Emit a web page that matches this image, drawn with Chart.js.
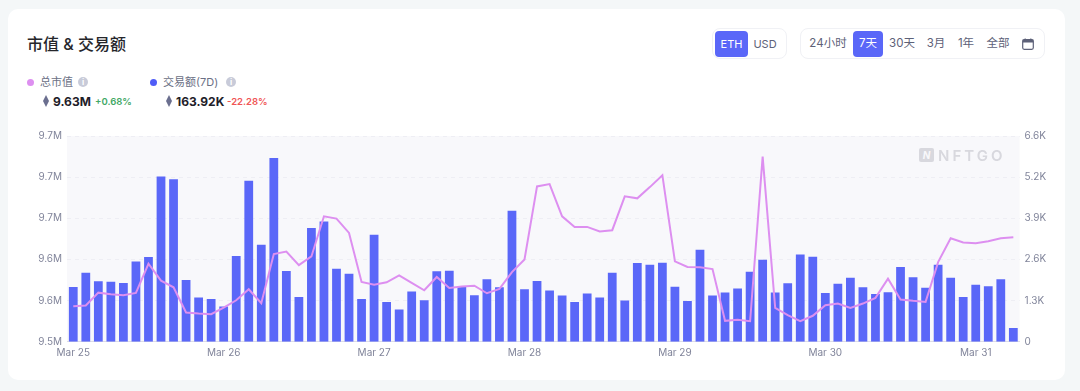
<!DOCTYPE html>
<html>
<head>
<meta charset="utf-8">
<title>市值 & 交易额</title>
<script src="https://cdn.jsdelivr.net/npm/chart.js@4"></script>
<style>
  html, body { margin: 0; padding: 0; width: 1080px; height: 391px; overflow: hidden; background: #f4f7f8; }
  body { font-family: Inter, "Noto Sans CJK SC", sans-serif; }
  .card { position: absolute; left: 8px; top: 9px; width: 1057px; height: 371px; background: #fff; border-radius: 10px; }
  .abs { position: absolute; white-space: nowrap; line-height: 1; }
  .center { transform: translateX(-50%); }
  .group { position: absolute; top: 28px; height: 31px; border: 1px solid #f0f1f5; border-radius: 8px; box-sizing: border-box; }
  .active { position: absolute; top: 31px; height: 26px; background: #5a67f8; border-radius: 4px; }
  .btn { font-size: 11.5px; color: #5d6178; top: 38px; }
  .btn.on { color: #fff; }
  .dot { position: absolute; width: 7px; height: 7px; border-radius: 50%; top: 78.5px; }
  .info { position: absolute; width: 10px; height: 10px; border-radius: 50%; top: 77px; background: #c8cbd9; color: #fff; font-size: 8px; line-height: 10px; text-align: center; font-weight: 700; }
  .legend { font-size: 11px; color: #6b7085; top: 77px; }
  .big { font-size: 12px; font-weight: 700; color: #1e2028; top: 95.5px; }
  .pct { font-size: 9.5px; font-weight: 600; top: 97px; }
  .eth { position: absolute; top: 95px; }
  #wrap { position: absolute; left: 20px; top: 125px; }
  .mark { font-size: 15px; font-weight: 600; letter-spacing: 3px; color: #d8d8de; left: 938px; top: 148px; }
  .markbox { position: absolute; left: 919px; top: 148px; width: 15px; height: 14px; background: #d8d8de; border-radius: 2px; color: #f8f8fb; font-size: 10px; line-height: 14px; text-align: center; font-weight: 700; font-style: italic; }
</style>
</head>
<body>
<div class="card"></div>

<div class="abs" style="left:27px;top:36px;font-size:16px;font-weight:500;color:#25262b">市值 &amp; 交易额</div>

<div class="dot" style="left:27px;background:#dd8ff0"></div>
<div class="abs legend" style="left:40px">总市值</div>
<div class="info" style="left:78px">i</div>
<div class="dot" style="left:150px;background:#4f5cf7"></div>
<div class="abs legend" style="left:163px">交易额(7D)</div>
<div class="info" style="left:226px">i</div>

<svg class="eth" style="left:43px" width="6" height="12" viewBox="0 0 6 12"><path d="M3 0 L6 6 L3 12 L0 6 Z" fill="#6b6f8f"/></svg>
<div class="abs big" style="left:53px">9.63M</div>
<div class="abs pct" style="left:95px;color:#3fa866">+0.68%</div>
<svg class="eth" style="left:166px" width="6" height="12" viewBox="0 0 6 12"><path d="M3 0 L6 6 L3 12 L0 6 Z" fill="#6b6f8f"/></svg>
<div class="abs big" style="left:176px">163.92K</div>
<div class="abs pct" style="left:227px;color:#f05555">-22.28%</div>

<div class="group" style="left:712px;width:75px"></div>
<div class="active" style="left:715px;width:33px"></div>
<div class="abs btn on center" style="left:731.5px;font-size:11px;top:39px">ETH</div>
<div class="abs btn center" style="left:765px;font-size:11px;top:39px">USD</div>

<div class="group" style="left:800px;width:245px"></div>
<div class="active" style="left:853px;width:30px"></div>
<div class="abs btn center" style="left:828px">24小时</div>
<div class="abs btn on center" style="left:868px">7天</div>
<div class="abs btn center" style="left:902px">30天</div>
<div class="abs btn center" style="left:936px">3月</div>
<div class="abs btn center" style="left:966px">1年</div>
<div class="abs btn center" style="left:998px">全部</div>
<svg style="position:absolute;left:1022px;top:38px" width="12" height="12" viewBox="0 0 12 12">
  <rect x="0.7" y="1.7" width="10.6" height="9.6" rx="1.5" fill="none" stroke="#5d6178" stroke-width="1.2"/>
  <rect x="0.7" y="1.7" width="10.6" height="2.8" fill="#5d6178"/>
  <path d="M3.2 0.5 V2.5 M8.8 0.5 V2.5" stroke="#5d6178" stroke-width="1.2"/>
</svg>

<div id="wrap"><canvas id="chart" width="1040" height="240"></canvas></div>

<div class="markbox">N</div>
<div class="abs mark">NFTGO</div>

<script>
const dayLabels = ['Mar 25', 'Mar 26', 'Mar 27', 'Mar 28', 'Mar 29', 'Mar 30', 'Mar 31'];

// trade volume, one bar every 2 hours (ETH)
const volumeValues = [
  1756, 2214, 1937, 1927, 1884, 2576, 2714, 5301, 5216, 1980, 1416, 1373,
  1128, 2746, 5163, 3108, 5897, 2267, 1437, 3651, 3853, 2342, 2182, 1373,
  3428, 1277, 1033, 1607, 1331, 2257, 2278, 1756, 1490, 2001, 1746, 4205,
  1682, 1948, 1639, 1480, 1277, 1544, 1416, 2214, 1320, 2523, 2470, 2534,
  1767, 1309, 2949, 1480, 1575, 1703, 2246, 2629, 1575, 1874, 2800, 2725,
  1565, 1863, 2055, 1746, 1533, 1586, 2395, 2065, 1735, 2470, 2055, 1437,
  1831, 1778, 2001, 436
];

// total market cap (million ETH)
const marketCapValues = [
  9.5645, 9.5652, 9.5777, 9.5761, 9.5752, 9.5774, 9.6058, 9.5894, 9.5829, 9.5584, 9.5574, 9.5568,
  9.5632, 9.5703, 9.5810, 9.5674, 9.6152, 9.6177, 9.6045, 9.6129, 9.6519, 9.6497, 9.6358, 9.5881,
  9.5855, 9.5877, 9.5945, 9.5871, 9.5800, 9.5929, 9.5823, 9.5836, 9.5845, 9.5771, 9.5813, 9.5977,
  9.6100, 9.6810, 9.6832, 9.6519, 9.6416, 9.6416, 9.6371, 9.6384, 9.6713, 9.6694, 9.6803, 9.6919,
  9.6081, 9.6026, 9.6023, 9.6006, 9.5503, 9.5513, 9.5500, 9.7100, 9.5629, 9.5558, 9.5500, 9.5552,
  9.5655, 9.5671, 9.5629, 9.5671, 9.5726, 9.5913, 9.5710, 9.5697, 9.5687, 9.6074, 9.6306, 9.6265,
  9.6258, 9.6277, 9.6306, 9.6316
];

const leftTickValues = [9.53, 9.57, 9.61, 9.65, 9.69, 9.73];
const leftTickLabels = ['9.5M', '9.6M', '9.6M', '9.7M', '9.7M', '9.7M'];
const rightTickValues = [0, 1320, 2640, 3960, 5280, 6600];
const rightTickLabels = ['0', '1.3K', '2.6K', '3.9K', '5.2K', '6.6K'];

const categories = volumeValues.map((v, i) => (i % 12 === 0 ? dayLabels[i / 12] : ''));

const tickFont = { family: 'Inter, "Noto Sans CJK SC", sans-serif', size: 10 };
const tickColor = '#80849a';

// light plot background behind the bars
const plotBackground = {
  id: 'plotBackground',
  beforeDraw(chart) {
    const { ctx, chartArea: a } = chart;
    ctx.save();
    ctx.fillStyle = '#f8f8fb';
    ctx.fillRect(a.left, a.top, a.right - a.left, a.bottom - a.top);
    ctx.restore();
  }
};

new Chart(document.getElementById('chart').getContext('2d'), {
  type: 'bar',
  data: {
    labels: categories,
    datasets: [
      {
        type: 'line',
        label: '总市值',
        data: marketCapValues,
        yAxisID: 'yCap',
        borderColor: '#dd8ff0',
        borderWidth: 2,
        pointRadius: 0,
        tension: 0,
        order: 1
      },
      {
        type: 'bar',
        label: '交易额(7D)',
        data: volumeValues,
        yAxisID: 'yVol',
        backgroundColor: '#5a67f8',
        barPercentage: 0.7,
        categoryPercentage: 1,
        order: 2
      }
    ]
  },
  options: {
    responsive: false,
    animation: false,
    layout: { padding: { top: 10, left: 0, right: 0, bottom: 0 } },
    plugins: { legend: { display: false }, tooltip: { enabled: false } },
    scales: {
      x: {
        grid: { display: false, drawTicks: false },
        border: { color: '#dcdce6' },
        afterFit: scale => { scale.height = 23.3; },
        ticks: {
          autoSkip: false,
          maxRotation: 0,
          font: tickFont,
          color: tickColor,
          padding: 5,
          callback(value, i) { return categories[i]; }
        }
      },
      yCap: {
        position: 'left',
        min: 9.53,
        max: 9.73,
        afterFit: scale => { scale.width = 47; },
        afterBuildTicks: scale => { scale.ticks = leftTickValues.map(value => ({ value })); },
        grid: { color: '#eeeef4', drawTicks: false },
        border: { display: false, dash: [4, 4] },
        ticks: {
          font: tickFont,
          color: tickColor,
          padding: 5,
          callback(value, i) { return leftTickLabels[i]; }
        }
      },
      yVol: {
        position: 'right',
        min: 0,
        max: 6600,
        afterFit: scale => { scale.width = 40.4; },
        afterBuildTicks: scale => { scale.ticks = rightTickValues.map(value => ({ value })); },
        grid: { display: false, drawTicks: false },
        border: { display: false },
        ticks: {
          font: tickFont,
          color: tickColor,
          padding: 5,
          callback(value, i) { return rightTickLabels[i]; }
        }
      }
    }
  },
  plugins: [plotBackground]
});
</script>
</body>
</html>
